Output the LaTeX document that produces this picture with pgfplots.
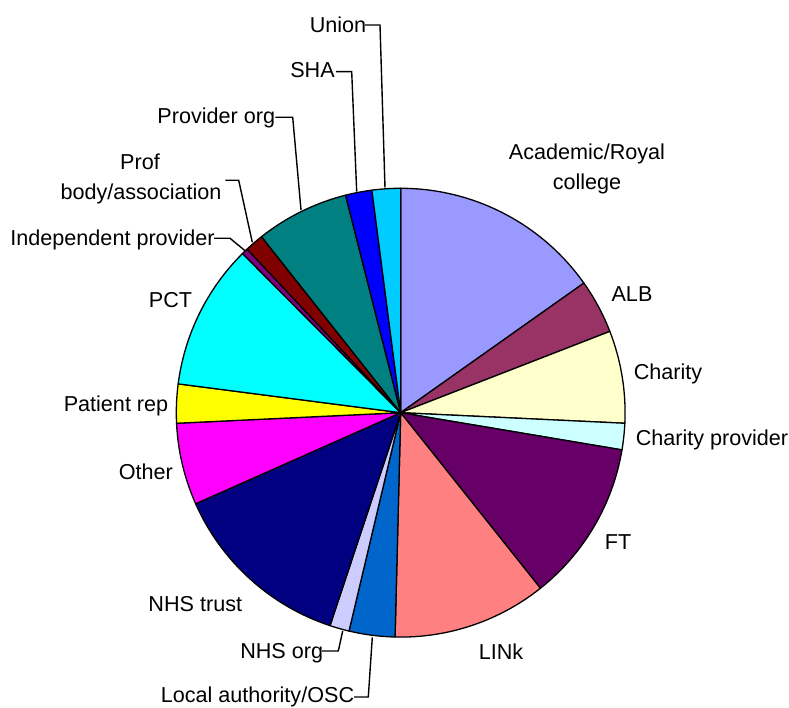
\documentclass[border=0pt]{standalone}
\usepackage{fontspec}
\setmainfont{Liberation Sans}
\usepackage{pgfplots}
\usepackage{pgfplotstable}
\pgfplotsset{compat=1.18}

\definecolor{pie1}{HTML}{9999FF}
\definecolor{pie2}{HTML}{993366}
\definecolor{pie3}{HTML}{FFFFCC}
\definecolor{pie4}{HTML}{CCFFFF}
\definecolor{pie5}{HTML}{660066}
\definecolor{pie6}{HTML}{FF8080}
\definecolor{pie7}{HTML}{0066CC}
\definecolor{pie8}{HTML}{CCCCFF}
\definecolor{pie9}{HTML}{000080}
\definecolor{pie10}{HTML}{FF00FF}
\definecolor{pie11}{HTML}{FFFF00}
\definecolor{pie12}{HTML}{00FFFF}
\definecolor{pie13}{HTML}{800080}
\definecolor{pie14}{HTML}{800000}
\definecolor{pie15}{HTML}{008080}
\definecolor{pie16}{HTML}{0000FF}
\definecolor{pie17}{HTML}{00CCFF}

\tikzset{lbl/.style={font=\fontsize{10.8}{13}\selectfont, text=black, inner sep=0pt, anchor=base}}

% share of each organisation type (percent), clockwise from 12 o'clock
\pgfplotstableread[col sep=comma]{
label,value
Academic/Royal college,15.2
ALB,3.9
Charity,6.65
Charity provider,1.9
FT,11.65
LINk,11.1
Local authority/OSC,3.3
NHS org,1.4
NHS trust,13.25
Other,5.9
Patient rep,2.8
PCT,10.5
Independent provider,0.45
Prof body/association,1.35
Provider org,6.7
SHA,1.9
Union,2.05
}\piedata

\begin{document}
\begin{tikzpicture}
\begin{axis}[
  x=0.5pt, y=0.5pt,
  xmin=0, xmax=789, ymin=0, ymax=707,
  hide axis, clip=false,
]
\addplot[draw=none, forget plot] coordinates {(0,0) (789,707)};
\def\cx{400.7}
\def\cy{294.3}
\def\R{224.4}
\gdef\cum{0}
\pgfplotsforeachungrouped \i in {0,...,16} {
  \pgfplotstablegetelem{\i}{value}\of\piedata
  \pgfmathsetmacro\vA{90-\cum*3.6}
  \pgfmathsetmacro\cumnew{\cum+\pgfplotsretval}
  \pgfmathsetmacro\vB{90-\cumnew*3.6}
  \global\let\cum\cumnew
  \pgfmathsetmacro\xA{\cx+\R*cos(\vA)}
  \pgfmathsetmacro\yA{\cy+\R*sin(\vA)}
  \pgfmathtruncatemacro\k{\i+1}
  \edef\cmd{\noexpand\filldraw[fill=pie\k, draw=black, line width=0.65pt, line join=round]
    (axis cs:\cx,\cy) -- (axis cs:\xA,\yA) arc[start angle=\vA, end angle=\vB, radius=\R] -- cycle;}
  \cmd
}
% leader lines
\pgfplotsset{leader/.style={black, line width=0.7pt, forget plot}}
\addplot[leader] coordinates {(354,10) (368.3,10) (372.3,69.7)};
\addplot[leader] coordinates {(322,56) (338.3,56) (342.7,76)};
\addplot[leader] coordinates {(214,468.7) (230,468.7) (245,456.3)};
\addplot[leader] coordinates {(225.3,526.7) (238.7,526.7) (252.3,464.7)};
\addplot[leader] coordinates {(275.3,589.7) (292.7,589.7) (301,497)};
\addplot[leader] coordinates {(336,635.3) (351.7,635.3) (356.7,515.3)};
\addplot[leader] coordinates {(365,682) (380,682) (385,519.3)};
% labels
\node[lbl] at (axis cs:587,547) {Academic/Royal};
\node[lbl] at (axis cs:587,517.7) {college};
\node[lbl] at (axis cs:632,405.3) {ALB};
\node[lbl] at (axis cs:668,327) {Charity};
\node[lbl] at (axis cs:712,261.5) {Charity provider};
\node[lbl] at (axis cs:618,157) {FT};
\node[lbl] at (axis cs:501,47.7) {LINk};
\node[lbl] at (axis cs:257.5,4.3) {Local authority/OSC};
\node[lbl] at (axis cs:281.7,48.7) {NHS org};
\node[lbl] at (axis cs:195.3,95.3) {NHS trust};
\node[lbl] at (axis cs:145.8,227.7) {Other};
\node[lbl] at (axis cs:116,295.3) {Patient rep};
\node[lbl] at (axis cs:170.5,399.3) {PCT};
\node[lbl] at (axis cs:112.5,461.3) {Independent provider};
\node[lbl] at (axis cs:140,537.7) {Prof};
\node[lbl] at (axis cs:141,507.7) {body/association};
\node[lbl] at (axis cs:216.3,583) {Provider org};
\node[lbl] at (axis cs:312.5,629) {SHA};
\node[lbl] at (axis cs:338,674.7) {Union};
\end{axis}
\end{tikzpicture}
\end{document}
